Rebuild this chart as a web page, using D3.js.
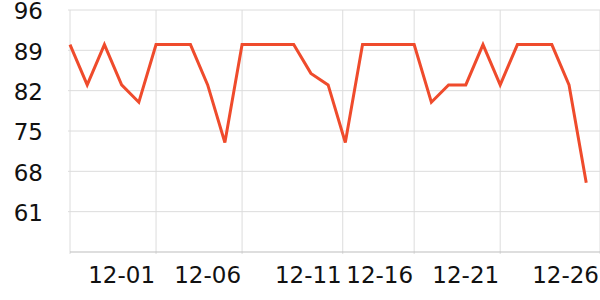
<!DOCTYPE html>
<html>
<head>
<meta charset="utf-8">
<script src="https://cdn.jsdelivr.net/npm/d3@7"></script>
<style>
  body { margin: 0; background: #fff; }
  svg text { font-family: "DejaVu Sans", sans-serif; }
</style>
</head>
<body>
<div id="plot-container"></div>
<script>
// one value per day, starting 11-26
const values = [90, 83, 90, 83, 80, 90, 90, 90, 83, 73,
                 90, 90, 90, 90, 85, 83, 73, 90, 90, 90,
                 90, 80, 83, 83, 90, 83, 90, 90, 90, 83, 66];
const yTicks = [61, 68, 75, 82, 89, 96];
const xTickLabels = ["12-01", "12-06", "12-11", "12-16", "12-21", "12-26"];
const xTickPos = [5, 10, 15.85, 20, 25, 30.8];

const margin = { top: 10, right: 0, bottom: 48, left: 70 };
const width = 600 - margin.left - margin.right;
const height = 300 - margin.top - margin.bottom;

const svg = d3.select("#plot-container")
    .append("svg")
    .attr("width", width + margin.left + margin.right)
    .attr("height", height + margin.top + margin.bottom)
    .append("g")
    .attr("transform", "translate(" + margin.left + "," + margin.top + ")");

const x = d3.scaleLinear()
    .domain([0, 30.8])
    .range([0, width]);

const y = d3.scaleLinear()
    .domain([54, 96])
    .range([height, 0]);

// horizontal grid
svg.append("g")
    .selectAll("line")
    .data(yTicks)
    .enter()
    .append("line")
    .attr("x1", -2)
    .attr("x2", width)
    .attr("y1", d => y(d))
    .attr("y2", d => y(d))
    .attr("stroke", "#dcdcdc")
    .attr("stroke-width", 1);

// vertical grid
svg.append("g")
    .selectAll("line")
    .data([0, ...xTickPos])
    .enter()
    .append("line")
    .attr("x1", d => x(d))
    .attr("x2", d => x(d))
    .attr("y1", 0)
    .attr("y2", height + 2)
    .attr("stroke", "#dcdcdc")
    .attr("stroke-width", 1);

// bottom axis line
svg.append("line")
    .attr("x1", 0)
    .attr("x2", width)
    .attr("y1", height)
    .attr("y2", height)
    .attr("stroke", "#bdbdbd")
    .attr("stroke-width", 1);

svg.append("g")
    .selectAll("text")
    .data(yTicks)
    .enter()
    .append("text")
    .attr("x", -27)
    .attr("y", d => y(d))
    .attr("dy", "0.4em")
    .attr("text-anchor", "end")
    .attr("font-size", 23)
    .attr("fill", "#111")
    .text(d => d);

svg.append("g")
    .selectAll("text")
    .data(xTickLabels)
    .enter()
    .append("text")
    .attr("x", (d, i) => x(xTickPos[i]) - 1)
    .attr("y", height + 31)
    .attr("text-anchor", "end")
    .attr("font-size", 23)
    .attr("fill", "#111")
    .text(d => d);

const line = d3.line()
    .x((d, i) => x(i))
    .y(d => y(d));

svg.append("path")
    .datum(values)
    .attr("fill", "none")
    .attr("stroke", "#ef4b2c")
    .attr("stroke-width", 3)
    .attr("stroke-linejoin", "miter")
    .attr("d", line);
</script>
</body>
</html>
